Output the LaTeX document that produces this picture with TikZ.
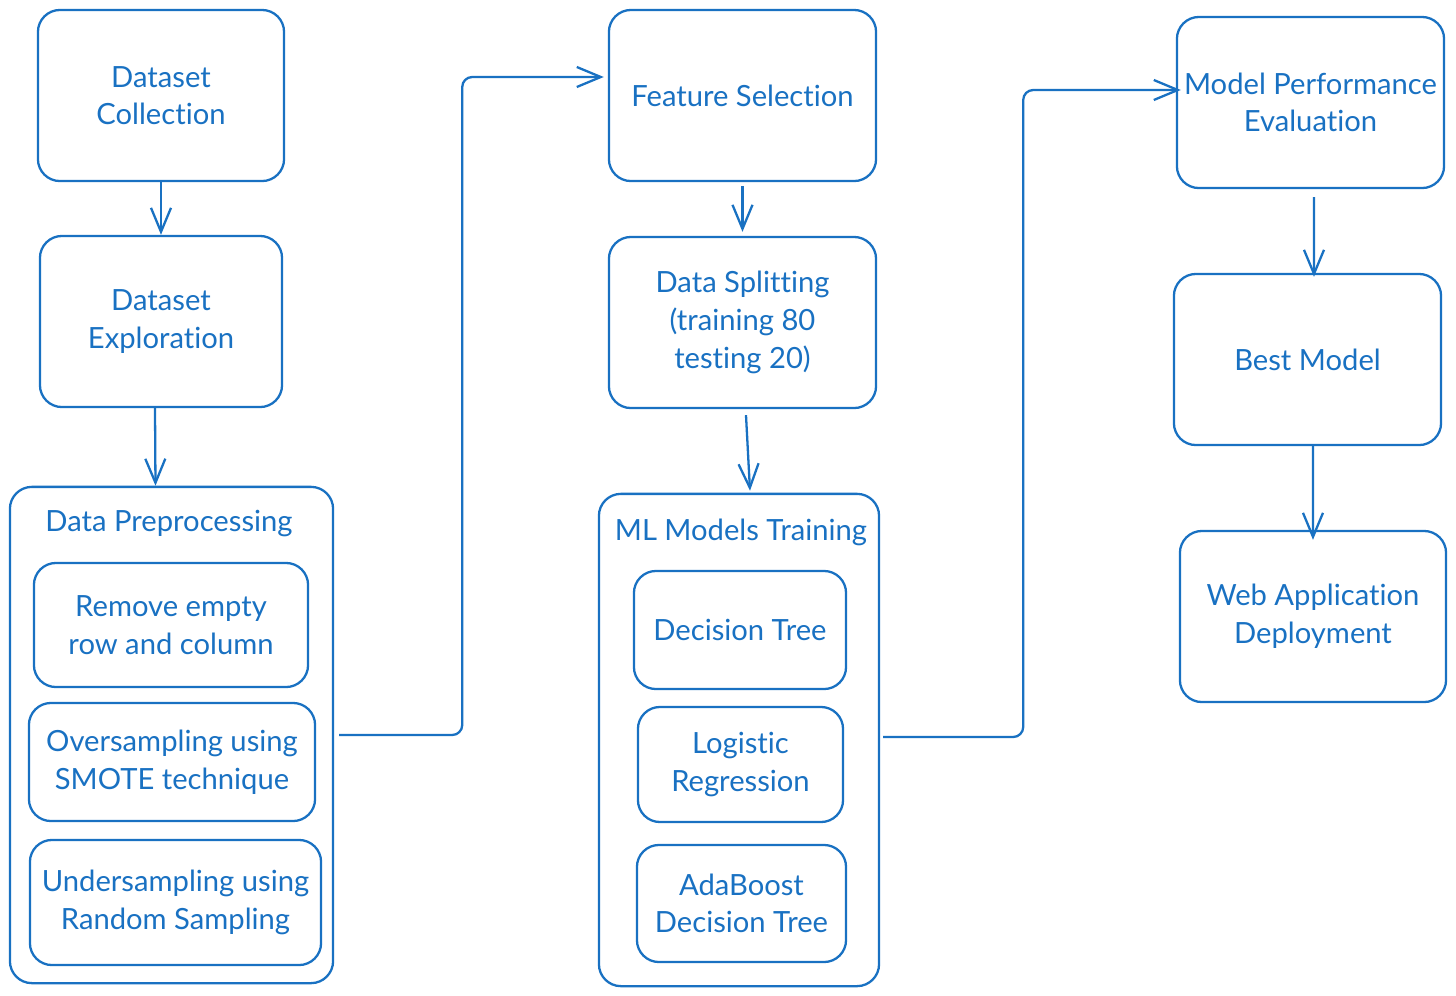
\documentclass[tikz,border=0pt]{standalone}
\usepackage{fontspec}
\setmainfont{Lato}[Ligatures=NoCommon]
\usetikzlibrary{arrows.meta}
\definecolor{exblue}{HTML}{1971C2}
\tikzset{
	box/.style={draw=exblue, line width=0.65pt, rounded corners=0.22cm, text=exblue, align=center, inner sep=0pt, font=\fontsize{8.3}{10.7}\selectfont},
	title/.style={text=exblue, align=center, inner sep=0pt, font=\fontsize{8.3}{10.7}\selectfont},
	conn/.style={draw=exblue, line width=0.65pt, -{Straight Barb[length=0.24cm, width=0.2cm, line width=0.65pt]}}
}
\begin{document}
\begin{tikzpicture}[x=0.01cm, y=-0.01cm]
	\useasboundingbox (0, 0) rectangle (1456, 996);

	%left column
	\node [box, minimum width=2.46cm, minimum height=1.71cm] (collect) at (161, 95.5) {Dataset\\Collection};
	\node [box, minimum width=2.42cm, minimum height=1.71cm] (explore) at (161, 321.5) {Dataset\\Exploration};
	\node [box, minimum width=3.23cm, minimum height=4.96cm] (prep) at (171.5, 735) {};
	\node [title] (preptitle) at (169, 524) {Data Preprocessing};
	\node [box, minimum width=2.74cm, minimum height=1.24cm] (empty) at (171, 625) {Remove empty\\row and column};
	\node [box, minimum width=2.86cm, minimum height=1.18cm] (oversample) at (172, 762) {Oversampling using\\SMOTE technique};
	\node [box, minimum width=2.91cm, minimum height=1.25cm] (undersample) at (175.5, 902.5) {Undersampling using\\Random Sampling};

	%middle column
	\node [box, minimum width=2.67cm, minimum height=1.71cm] (featsel) at (742.5, 95.5) {Feature Selection};
	\node [box, minimum width=2.67cm, minimum height=1.71cm] (split) at (742.5, 322.5) {Data Splitting\\(training 80\\testing 20)};
	\node [box, minimum width=2.80cm, minimum height=4.92cm] (ml) at (739, 740) {};
	\node [title] (mltitle) at (741, 532) {ML Models Training};
	\node [box, minimum width=2.12cm, minimum height=1.18cm] (dtree) at (740, 630) {Decision Tree};
	\node [box, minimum width=2.05cm, minimum height=1.15cm] (logreg) at (740.5, 764.5) {Logistic\\Regression};
	\node [box, minimum width=2.09cm, minimum height=1.17cm] (adaboost) at (741.5, 903.5) {AdaBoost\\Decision Tree};

	%right column
	\node [box, minimum width=2.67cm, minimum height=1.71cm] (perf) at (1310.5, 102.5) {Model Performance\\Evaluation};
	\node [box, minimum width=2.67cm, minimum height=1.71cm] (best) at (1307.5, 359.5) {Best Model};
	\node [box, minimum width=2.66cm, minimum height=1.71cm] (webapp) at (1313, 616.5) {Web Application\\Deployment};

	%paths
	\draw [conn] (collect.south) -- (explore.north);
	\draw [conn] ([xshift=-0.06cm]explore.south) -- ([xshift=-0.16cm]prep.north);
	\draw [conn, rounded corners=0.1cm] ([xshift=0.05cm]prep.east) -- ++(123, 0) |- ([xshift=-0.04cm, yshift=0.185cm]featsel.west);
	\draw [conn] ([yshift=-0.04cm]featsel.south) -- ([yshift=0.04cm]split.north);
	\draw [conn] ([xshift=0.035cm, yshift=-0.06cm]split.south) -- ([xshift=0.11cm, yshift=0.02cm]ml.north);
	\draw [conn, rounded corners=0.1cm] ([xshift=0.03cm, yshift=0.03cm]ml.east) -- ++(140, 0) |- ([xshift=0.05cm, yshift=0.125cm]perf.west);
	\draw [conn] ([xshift=0.035cm, yshift=-0.08cm]perf.south) -- ([xshift=0.065cm, yshift=-0.04cm]best.north);
	\draw [conn] ([xshift=0.055cm]best.south) -- ([yshift=-0.1cm]webapp.north);

\end{tikzpicture}
\end{document}
